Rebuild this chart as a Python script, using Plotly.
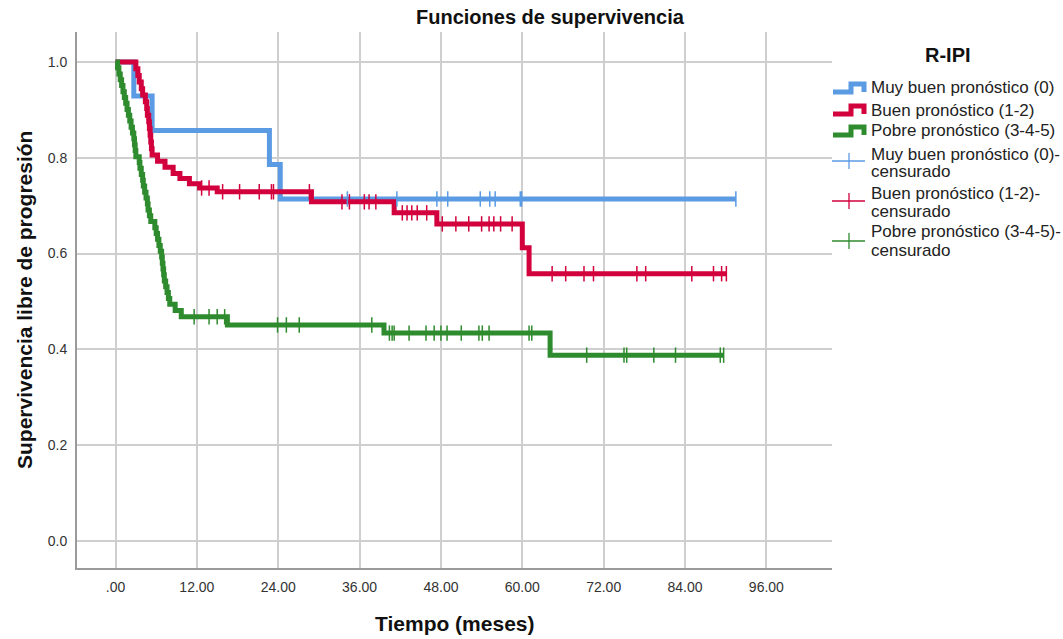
import numpy as np
import plotly.graph_objects as go

# Kaplan-Meier steps per R-IPI group: event times (months) and survival after each event
blue_t = [2.7, 5.4, 22.7, 24.3]
blue_s = [0.929, 0.857, 0.786, 0.714]
blue_end = 91.5
blue_cens = [34.2, 41.5, 47.4, 49.0, 53.8, 55.2, 56.0, 59.7, 59.9, 91.5]

red_t = [3.0, 3.3, 3.5, 3.8, 4.0, 4.4, 4.6, 4.7, 4.9, 5.0, 5.1, 5.2, 5.3, 5.4,
         6.2, 7.3, 8.5, 9.5, 10.9, 12.4, 15.0, 28.9, 41.1, 47.4, 60.0, 61.0]
red_s = [0.986, 0.972, 0.958, 0.944, 0.931, 0.917, 0.903, 0.889, 0.875, 0.861, 0.847, 0.833, 0.819, 0.806,
         0.793, 0.780, 0.767, 0.757, 0.746, 0.737, 0.729, 0.708, 0.685, 0.662, 0.612, 0.558]
red_end = 90.1
red_cens = [12.7, 13.8, 15.8, 18.3, 21.2, 23.0, 23.3, 28.6, 33.4, 34.5, 36.7, 37.4, 38.4,
            42.3, 43.0, 43.7, 44.5, 45.9, 48.2, 50.2, 52.1, 54.0, 55.1, 55.8, 56.8, 58.5,
            64.4, 66.4, 69.1, 70.5, 76.9, 78.2, 85.0, 88.2, 89.4, 90.1]

green_t = [0.3, 0.5, 0.7, 0.9, 1.1, 1.3, 1.5, 1.7, 1.9, 2.1, 2.3, 2.5, 2.7, 2.8, 2.9, 3.0,
           3.5, 3.6, 3.8, 4.0, 4.1, 4.3, 4.5, 4.7, 4.8, 5.0, 5.2, 5.8, 6.0, 6.2, 6.4, 6.6,
           6.8, 6.9, 7.0, 7.1, 7.2, 7.4, 7.6, 7.8, 8.0, 8.8, 9.7, 16.5, 39.6, 64.1]
green_s = [0.988, 0.975, 0.963, 0.951, 0.938, 0.926, 0.914, 0.901, 0.889, 0.877, 0.864, 0.852,
           0.840, 0.827, 0.815, 0.802, 0.790, 0.778, 0.765, 0.753, 0.741, 0.728, 0.716, 0.704,
           0.691, 0.679, 0.667, 0.654, 0.642, 0.630, 0.617, 0.605, 0.593, 0.580, 0.568, 0.556,
           0.543, 0.531, 0.519, 0.506, 0.494, 0.481, 0.468, 0.451, 0.434, 0.388]
green_end = 89.7
green_cens = [11.6, 13.8, 15.0, 16.1, 23.9, 25.2, 27.1, 37.8, 40.4, 40.8, 41.1, 43.3, 45.8,
              47.0, 48.0, 48.9, 51.0, 53.6, 54.1, 55.1, 61.0, 61.4, 69.5, 75.0, 75.4, 79.4,
              82.6, 89.2, 89.7]

x_ticks = [0, 12, 24, 36, 48, 60, 72, 84, 96]
x_ticktext = [".00", "12.00", "24.00", "36.00", "48.00", "60.00", "72.00", "84.00", "96.00"]
y_ticks = [0.0, 0.2, 0.4, 0.6, 0.8, 1.0]
y_ticktext = ["0.0", "0.2", "0.4", "0.6", "0.8", "1.0"]

group_names = ["Muy buen pronóstico (0)", "Buen pronóstico (1-2)", "Pobre pronóstico (3-4-5)"]
group_colors = ["#5a9be4", "#d2003c", "#2e8b2e"]
groups = list(zip(group_names, group_colors,
                  [blue_t, red_t, green_t], [blue_s, red_s, green_s],
                  [blue_end, red_end, green_end], [blue_cens, red_cens, green_cens]))

FONT = "Liberation Sans, Arial, sans-serif"
W, H = 1063, 639
L, R, T, B = 77, 231, 32, 71
PW, PH = W - L - R, H - T - B


def px(x):
    return (x - L) / PW


def py(y):
    return (H - B - y) / PH


fig = go.Figure()

# survival step curves
for name, color, t, s, end, _ in groups:
    fig.add_trace(go.Scatter(
        x=[0.0] + t + [end], y=[1.0] + s + [s[-1]],
        mode="lines", line=dict(color=color, width=5, shape="hv"),
        name=name, hoverinfo="skip", showlegend=False,
    ))

# censoring marks placed on the curve level at each censored time
for name, color, t, s, end, cens in groups:
    levels = np.array([1.0] + s)
    idx = np.searchsorted(np.array(t), np.array(cens), side="right")
    fig.add_trace(go.Scatter(
        x=cens, y=levels[idx], mode="markers",
        marker=dict(symbol="line-ns", size=11, line=dict(color=color, width=1.5)),
        name=name + "-censurado", hoverinfo="skip", showlegend=False,
    ))

# legend drawn by hand: step icons for curves, cross icons for censored marks
shapes, annotations = [], []
TEXT_X = 869
LEG_FONT = dict(size=17, color="#222", family=FONT)
curve_rows = [88, 110, 131]
for (name, color, *_), yc in zip(groups, curve_rows):
    path = "M {} {} L {} {} L {} {} L {} {} L {} {}".format(
        px(833), py(yc + 4), px(851), py(yc + 4), px(851), py(yc - 4),
        px(864), py(yc - 4), px(864), py(yc + 4))
    shapes.append(dict(type="path", path=path, xref="paper", yref="paper",
                       line=dict(color=color, width=5)))
    annotations.append(dict(text=name, x=px(TEXT_X), y=py(yc), xref="paper", yref="paper",
                            xanchor="left", yanchor="middle", showarrow=False, font=LEG_FONT))

cens_rows = [(154, 171, 161), (193, 211, 201), (232, 250, 241)]
for (name, color, *_), (y1, y2, yl) in zip(groups, cens_rows):
    shapes.append(dict(type="line", xref="paper", yref="paper",
                       x0=px(832), x1=px(865), y0=py(yl), y1=py(yl),
                       line=dict(color=color, width=1.3)))
    shapes.append(dict(type="line", xref="paper", yref="paper",
                       x0=px(849), x1=px(849), y0=py(yl - 8), y1=py(yl + 8),
                       line=dict(color=color, width=1.3)))
    annotations.append(dict(text=name + "-", x=px(TEXT_X), y=py(y1), xref="paper", yref="paper",
                            xanchor="left", yanchor="middle", showarrow=False, font=LEG_FONT))
    annotations.append(dict(text="censurado", x=px(TEXT_X), y=py(y2), xref="paper", yref="paper",
                            xanchor="left", yanchor="middle", showarrow=False, font=LEG_FONT))

annotations += [
    dict(text="<b>Tiempo (meses)</b>", xref="paper", yref="paper",
         x=px(455), y=py(623), xanchor="center", yanchor="middle",
         showarrow=False, font=dict(size=21, color="#111")),
    dict(text="<b>Supervivencia libre de progresión</b>", xref="paper", yref="paper",
         x=px(24), y=0.5, xanchor="center", yanchor="middle", textangle=-90,
         showarrow=False, font=dict(size=21, color="#111")),
    dict(text="<b>R-IPI</b>", xref="paper", yref="paper",
         x=px(948), y=py(55), xanchor="center", yanchor="middle",
         showarrow=False, font=dict(size=20, color="#111")),
    dict(text="<b>Funciones de supervivencia</b>", xref="paper", yref="paper",
         x=px(550), y=py(17), xanchor="center", yanchor="middle",
         showarrow=False, font=dict(size=20, color="#111")),
]

fig.update_layout(
    width=W, height=H,
    margin=dict(l=L, r=R, t=T, b=B),
    paper_bgcolor="white", plot_bgcolor="white",
    font=dict(family=FONT, color="#222"),
    showlegend=False,
    shapes=shapes,
    annotations=annotations,
    xaxis=dict(range=[-5.68, 105.68], tickvals=x_ticks, ticktext=x_ticktext,
               showgrid=True, gridcolor="#cfcfcf", gridwidth=1.5, zeroline=False,
               showline=True, linecolor="#9a9a9a", linewidth=2,
               ticks="outside", ticklen=5, tickcolor="rgba(0,0,0,0)",
               tickfont=dict(size=14, color="#333")),
    yaxis=dict(range=[-0.0564, 1.0626], tickvals=y_ticks, ticktext=y_ticktext,
               showgrid=True, gridcolor="#cfcfcf", gridwidth=1.5, zeroline=False,
               showline=True, linecolor="#9a9a9a", linewidth=2,
               ticks="outside", ticklen=5, tickcolor="rgba(0,0,0,0)",
               tickfont=dict(size=14, color="#333")),
)

fig.write_html("out.html")
